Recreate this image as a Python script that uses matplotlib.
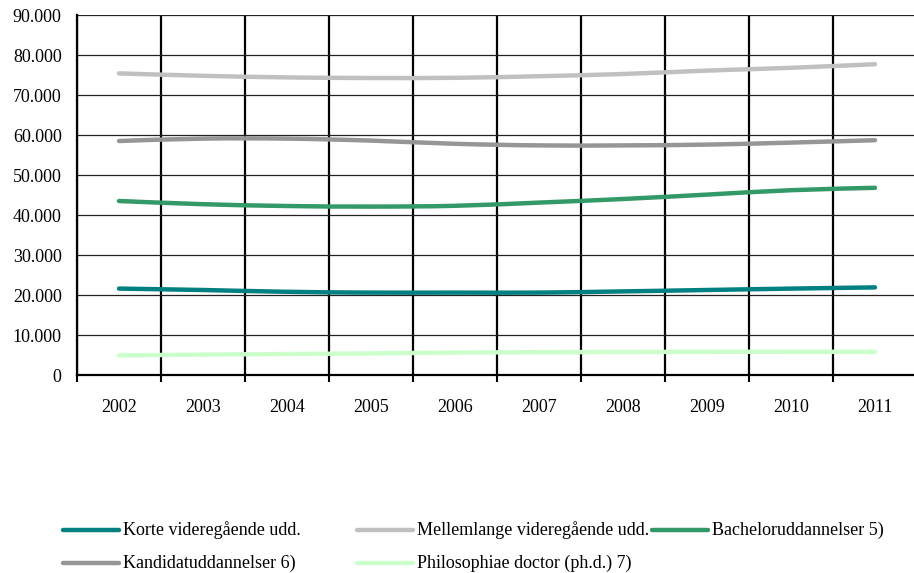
import matplotlib
matplotlib.use("Agg")
import matplotlib.pyplot as plt
from matplotlib.path import Path
from matplotlib.patches import PathPatch
from matplotlib.lines import Line2D
from matplotlib.ticker import FuncFormatter
import numpy as np

plt.rcParams['font.family'] = ['Liberation Serif', 'DejaVu Serif']

years = ["2002", "2003", "2004", "2005", "2006", "2007", "2008", "2009", "2010", "2011"]
korte = [21600, 21250, 20800, 20600, 20600, 20600, 20900, 21250, 21600, 21900]
mellemlange = [75400, 74800, 74400, 74250, 74300, 74700, 75250, 76100, 76800, 77700]
bachelor = [43500, 42700, 42250, 42100, 42300, 43100, 44000, 45100, 46200, 46800]
kandidat = [58500, 59100, 59100, 58600, 57800, 57400, 57400, 57600, 58100, 58700]
phd = [4900, 5100, 5250, 5400, 5600, 5700, 5750, 5800, 5800, 5800]

series = [
    ("Korte videregående udd.", korte, "#008080"),
    ("Mellemlange videregående udd.", mellemlange, "#C0C0C0"),
    ("Bacheloruddannelser 5)", bachelor, "#339966"),
    ("Kandidatuddannelser 6)", kandidat, "#969696"),
    ("Philosophiae doctor (ph.d.) 7)", phd, "#CCFFCC"),
]

W, H = 914, 573
fig = plt.figure(figsize=(W / 100, H / 100), dpi=100)
ax = fig.add_axes([77 / W, (H - 375) / H, 840 / W, 360 / H])

x = np.arange(len(years))


def smooth_path(xs, ys):
    pts = np.column_stack([xs, ys]).astype(float)
    n = len(pts)
    verts = [pts[0]]
    codes = [Path.MOVETO]
    for i in range(n - 1):
        p0 = pts[i - 1] if i > 0 else pts[i]
        p1 = pts[i]
        p2 = pts[i + 1]
        p3 = pts[i + 2] if i + 2 < n else pts[i + 1]
        c1 = p1 + (p2 - p0) / 6.0
        c2 = p2 - (p3 - p1) / 6.0
        verts += [c1, c2, p2]
        codes += [Path.CURVE4] * 3
    return Path(verts, codes)


for label, vals, col in series:
    patch = PathPatch(smooth_path(x, vals), fill=False, edgecolor=col, lw=3.2,
                      capstyle='round', joinstyle='round', zorder=3)
    ax.add_patch(patch)

ax.set_xlim(-0.5, len(years) - 0.5)
ax.set_ylim(0, 90000)

# y axis
ax.set_yticks(np.arange(0, 90001, 10000))
ax.yaxis.set_major_formatter(FuncFormatter(lambda v, p: f"{int(v):,}".replace(",", ".")))
ax.tick_params(axis='y', length=0, pad=11, labelsize=13)
ax.yaxis.grid(True, color='#222222', lw=0.9, zorder=1)

# x axis: boundaries as major ticks, labels as minor ticks
ax.set_xticks(np.arange(-0.5, len(years), 1.0))
ax.set_xticklabels([])
ax.set_xticks(x, minor=True)
ax.set_xticklabels(years, minor=True)
ax.tick_params(axis='x', which='major', length=5, width=1.5, direction='out', color='black')
ax.tick_params(axis='x', which='minor', length=0, pad=17, labelsize=13)
ax.xaxis.grid(True, which='major', color='black', lw=1.6, zorder=1)
ax.set_axisbelow(True)

for s in ['top', 'right']:
    ax.spines[s].set_visible(False)
for s in ['left', 'bottom']:
    ax.spines[s].set_linewidth(1.6)
    ax.spines[s].set_color('black')

# legend (manual, 3 columns x 2 rows)
leg_pos = [
    (63, 530), (357, 530), (652, 530),
    (63, 563), (357, 563),
]
for (label, vals, col), (lx, ly) in zip(series, leg_pos):
    fy = (H - ly) / H
    fig.add_artist(Line2D([lx / W, (lx + 56) / W], [fy, fy], color=col, lw=3.2,
                          solid_capstyle='round', transform=fig.transFigure))
    fig.text((lx + 60) / W, fy, label, fontsize=13, va='center', ha='left')

fig.savefig("out.png", dpi=100)
